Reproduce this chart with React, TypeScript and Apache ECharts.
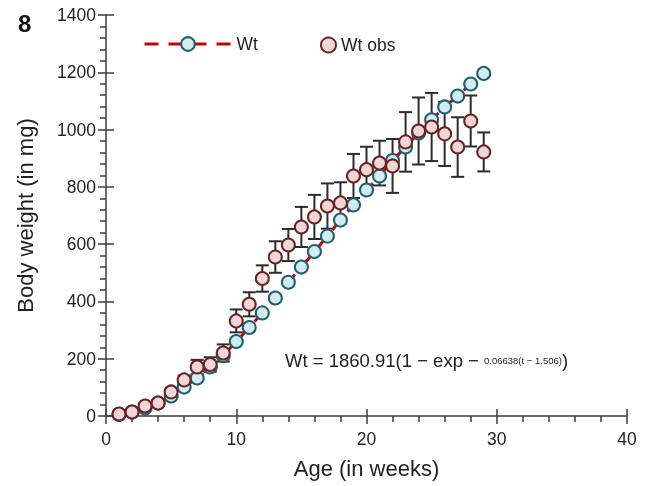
import React, { useEffect, useRef } from 'react';
import * as echarts from 'echarts';

const ages = [1, 2, 3, 4, 5, 6, 7, 8, 9, 10, 11, 12, 13, 14, 15, 16, 17, 18, 19, 20, 21, 22, 23, 24, 25, 26, 27, 28, 29];
const wtFit = [5, 14, 28, 45, 70, 101, 133, 171, 211, 260, 309, 360, 412, 467, 520, 574, 628, 684, 737, 789, 838, 892, 939, 988, 1034, 1079, 1117, 1159, 1196];
const wtObs = [7, 14, 35, 45, 84, 126, 171, 180, 220, 332, 390, 480, 555, 597, 660, 695, 733, 744, 838, 860, 883, 873, 957, 995, 1009, 985, 939, 1030, 922];
const wtErr = [3, 5, 8, 10, 12, 15, 25, 25, 30, 40, 42, 46, 55, 56, 70, 77, 79, 72, 77, 80, 78, 94, 104, 117, 119, 112, 104, 89, 68];
const seriesNames = ['Wt', 'Wt obs'];
const xTitle = 'Age (in weeks)';
const yTitle = 'Body weight (in mg)';
const panelLabel = '8';
const equationMain = 'Wt = 1860.91(1 − exp − ';
const equationExp = '0.06638(t − 1.506)';

export default function App() {
  const ref = useRef<HTMLDivElement>(null);
  useEffect(() => {
    const chart = echarts.init(ref.current!, null, { renderer: 'svg' });
    const font = "'Liberation Sans', Arial, sans-serif";
    const axisColor = '#3c3c3c';
    const textColor = '#222';
    const lineStyle = { color: axisColor, width: 1.5 };

    const blueFill = '#d4ebf2';
    const blueBorder = '#1d5f73';
    const redFill = '#f0d6d6';
    const redBorder = '#6b2222';
    const fitLine = '#c80000';

    const xBase = { type: 'value', min: 0, max: 40, interval: 10, position: 'bottom', splitLine: { show: false } };
    const yBase = { type: 'value', min: 0, max: 1400, interval: 200, position: 'left', splitLine: { show: false } };

    const option: any = {
      animation: false,
      grid: { left: 106, right: 22, top: 15, bottom: 70 },
      xAxis: [
        {
          ...xBase,
          axisLine: { show: true, lineStyle },
          axisTick: { show: true, inside: false, length: 8, lineStyle },
          minorTick: { show: true, splitNumber: 5, length: 6, lineStyle },
          axisLabel: { fontSize: 17.5, color: textColor, fontFamily: font, margin: 14 },
          name: xTitle,
          nameLocation: 'middle',
          nameGap: 41,
          nameTextStyle: { fontSize: 22, color: textColor, fontFamily: font },
        },
        {
          ...xBase,
          axisLine: { show: false },
          axisTick: { show: true, inside: true, length: 7, lineStyle },
          axisLabel: { show: false },
        },
      ],
      yAxis: [
        {
          ...yBase,
          axisLine: { show: true, lineStyle },
          axisTick: { show: true, inside: false, length: 8, lineStyle },
          minorTick: { show: true, splitNumber: 5, length: 6, lineStyle },
          axisLabel: {
            fontSize: 17.5,
            color: textColor,
            fontFamily: font,
            margin: 10,
            formatter: (v: number) => String(v),
          },
          name: yTitle,
          nameLocation: 'middle',
          nameGap: 70,
          nameTextStyle: { fontSize: 22, color: textColor, fontFamily: font },
        },
        {
          ...yBase,
          axisLine: { show: false },
          axisTick: { show: true, inside: true, length: 8, lineStyle },
          axisLabel: { show: false },
        },
      ],
      legend: [
        {
          left: 143,
          top: 35,
          padding: 0,
          itemWidth: 87,
          itemHeight: 17,
          itemGap: 0,
          textStyle: { fontSize: 17.5, color: textColor, fontFamily: font },
          data: [
            {
              name: seriesNames[0],
              lineStyle: { color: fitLine, width: 3, type: [14, 10] },
              itemStyle: { color: blueFill, borderColor: blueBorder, borderWidth: 2 },
            },
          ],
        },
        {
          left: 320,
          top: 36,
          padding: 0,
          itemWidth: 15,
          itemHeight: 15,
          textStyle: { fontSize: 17.5, color: textColor, fontFamily: font },
          data: [
            {
              name: seriesNames[1],
              icon: 'circle',
              itemStyle: { color: redFill, borderColor: redBorder, borderWidth: 2 },
            },
          ],
        },
      ],
      series: [
        {
          type: 'custom',
          name: 'err',
          z: 1,
          encode: { x: 0, y: [1, 2] },
          data: ages.map((t, i) => [t, wtObs[i] - wtErr[i], wtObs[i] + wtErr[i]]),
          renderItem: (params: any, api: any) => {
            const x = api.value(0);
            const p1 = api.coord([x, api.value(1)]);
            const p2 = api.coord([x, api.value(2)]);
            const w = 6.5;
            const style = { stroke: '#2b2b2b', lineWidth: 2 };
            return {
              type: 'group',
              children: [
                { type: 'line', shape: { x1: p1[0], y1: p1[1], x2: p2[0], y2: p2[1] }, style },
                { type: 'line', shape: { x1: p1[0] - w, y1: p1[1], x2: p1[0] + w, y2: p1[1] }, style },
                { type: 'line', shape: { x1: p2[0] - w, y1: p2[1], x2: p2[0] + w, y2: p2[1] }, style },
              ],
            };
          },
        },
        {
          type: 'line',
          name: seriesNames[0],
          z: 2,
          data: ages.map((t, i) => [t, wtFit[i]]),
          symbol: 'circle',
          symbolSize: 13,
          showAllSymbol: true,
          itemStyle: { color: blueFill, borderColor: blueBorder, borderWidth: 2 },
          lineStyle: { color: fitLine, width: 3, type: [14, 10] },
        },
        {
          type: 'scatter',
          name: seriesNames[1],
          z: 3,
          data: ages.map((t, i) => [t, wtObs[i]]),
          symbol: 'circle',
          symbolSize: 13,
          itemStyle: { color: redFill, borderColor: redBorder, borderWidth: 2, opacity: 1 },
        },
      ],
      graphic: [
        {
          type: 'text',
          left: 18,
          top: 11,
          style: { text: panelLabel, fontSize: 24, fontWeight: 'bold', fill: '#111', fontFamily: font },
        },
        {
          type: 'text',
          left: 285,
          top: 351,
          style: {
            text: `{m|${equationMain}}{s|${equationExp}}{m|)}`,
            rich: {
              m: { fontSize: 18.5, fill: textColor, fontFamily: font },
              s: { fontSize: 9.5, fill: textColor, fontFamily: font },
            },
          },
        },
      ],
    };
    chart.setOption(option);
    return () => chart.dispose();
  }, []);
  return <div ref={ref} style={{ position: 'fixed', left: 0, top: 0, width: 649, height: 486 }} />;
}
